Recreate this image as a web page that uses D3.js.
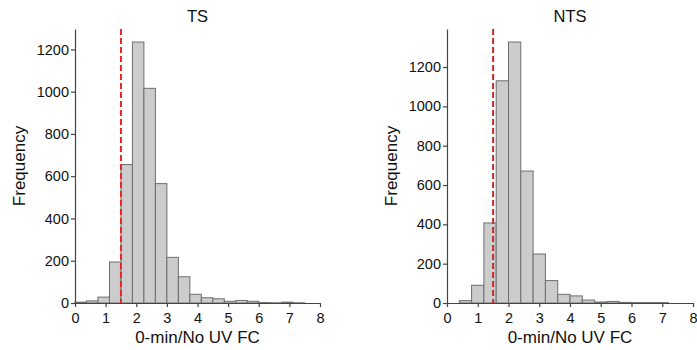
<!DOCTYPE html>
<html>
<head>
<meta charset="utf-8">
<script src="https://cdn.jsdelivr.net/npm/d3@7"></script>
<style>
  body { margin: 0; background: #fff; }
  svg text { font-family: "Liberation Sans", Arial, sans-serif; fill: #111; }
</style>
</head>
<body>
<div id="chart"></div>
<script>
// TS histogram: bins of 0.375 from 0 to 7.5
const tsBinStart = 0;
const tsBinWidth = 0.375;
const tsCounts = [4, 10, 28, 194, 655, 1235, 1016, 565, 216, 124, 41, 25, 20, 8, 12, 8, 2, 1, 4, 1];

// NTS histogram: bins of 0.4 from 0.4 to 7.2
const ntsBinStart = 0.4;
const ntsBinWidth = 0.4;
const ntsCounts = [12, 90, 407, 1130, 1327, 671, 249, 114, 44, 36, 15, 5, 8, 3, 2, 2, 2];

const xTicks = [0, 1, 2, 3, 4, 5, 6, 7, 8];
const yTicks = [0, 200, 400, 600, 800, 1000, 1200];
const cutoff = 1.5;

const width = 697, height = 350;
const svg = d3.select('#chart').append('svg')
  .attr('width', width)
  .attr('height', height);

function drawPanel(opts) {
  const bins = opts.counts.map((c, i) => ({
    x0: opts.start + i * opts.binWidth,
    x1: opts.start + (i + 1) * opts.binWidth,
    count: c
  }));

  const x = d3.scaleLinear().domain([0, 8]).range([opts.left, opts.right]);
  const yMax = d3.max(opts.counts) * 1.05;
  const y = d3.scaleLinear().domain([0, yMax]).range([303, 29]);

  const g = svg.append('g');

  g.selectAll('rect.bar')
    .data(bins)
    .enter()
    .append('rect')
    .attr('class', 'bar')
    .attr('x', d => x(d.x0))
    .attr('width', d => x(d.x1) - x(d.x0))
    .attr('y', d => y(d.count))
    .attr('height', d => y(0) - y(d.count))
    .style('fill', '#cccccc')
    .style('stroke', '#6e6e6e')
    .style('stroke-width', 1);

  // cutoff line
  g.append('line')
    .attr('x1', x(cutoff)).attr('x2', x(cutoff))
    .attr('y1', y(yMax)).attr('y2', y(0))
    .style('stroke', opts.lineColor)
    .style('stroke-width', 2)
    .style('stroke-dasharray', '6,3');

  const xAxis = g.append('g')
    .attr('transform', `translate(0,${y(0)})`)
    .call(d3.axisBottom(x).tickValues(xTicks).tickFormat(d3.format('d')).tickSize(4).tickSizeOuter(0));

  const yAxis = g.append('g')
    .attr('transform', `translate(${opts.left},0)`)
    .call(d3.axisLeft(y).tickValues(yTicks).tickFormat(d3.format('d')).tickSize(4).tickSizeOuter(0));

  [xAxis, yAxis].forEach(a => {
    a.selectAll('path.domain').style('stroke', '#444').style('stroke-width', 1.2);
    a.selectAll('.tick line').style('stroke', '#444').style('stroke-width', 1.2);
    a.selectAll('.tick text').style('font-size', '14.5px').style('fill', '#111')
      .style('font-family', '"Liberation Sans", Arial, sans-serif');
  });
  xAxis.selectAll('.tick text').attr('dy', '0.9em');
  yAxis.selectAll('.tick text').attr('x', -6);

  const cx = (opts.left + opts.right) / 2;
  g.append('text')
    .attr('x', cx).attr('y', 22)
    .attr('text-anchor', 'middle')
    .style('font-size', '16.5px')
    .text(opts.title);

  g.append('text')
    .attr('x', cx).attr('y', 343)
    .attr('text-anchor', 'middle')
    .style('font-size', '17px')
    .text('0-min/No UV FC');

  g.append('text')
    .attr('transform', `translate(${opts.ylabelX},${(y(0) + y(yMax)) / 2}) rotate(-90)`)
    .attr('text-anchor', 'middle')
    .style('font-size', '17px')
    .text('Frequency');
}

drawPanel({
  title: 'TS', counts: tsCounts, start: tsBinStart, binWidth: tsBinWidth,
  left: 75, right: 320, ylabelX: 25, lineColor: '#e8242a'
});

drawPanel({
  title: 'NTS', counts: ntsCounts, start: ntsBinStart, binWidth: ntsBinWidth,
  left: 447, right: 693, ylabelX: 397, lineColor: '#c8282d'
});
</script>
</body>
</html>
